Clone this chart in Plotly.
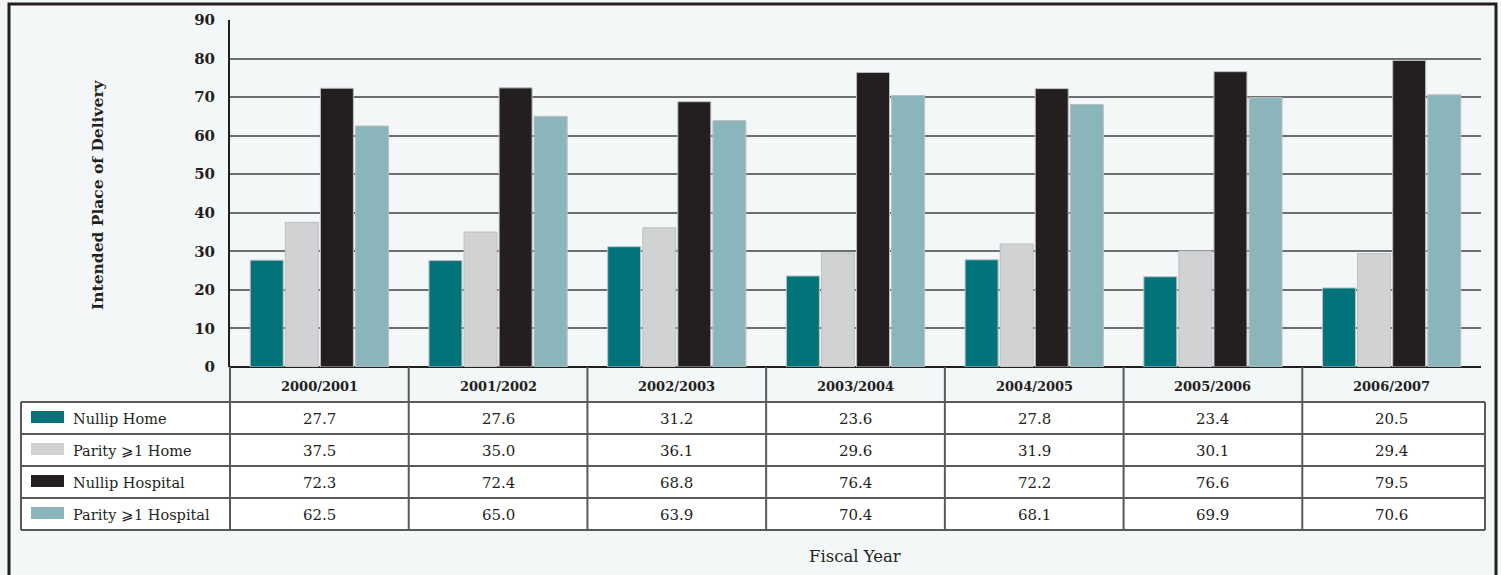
import plotly.graph_objects as go

years = ["2000/2001", "2001/2002", "2002/2003", "2003/2004", "2004/2005", "2005/2006", "2006/2007"]
series_names = ["Nullip Home", "Parity \u2A7E1 Home", "Nullip Hospital", "Parity \u2A7E1 Hospital"]
nullip_home = [27.7, 27.6, 31.2, 23.6, 27.8, 23.4, 20.5]
parity_home = [37.5, 35.0, 36.1, 29.6, 31.9, 30.1, 29.4]
nullip_hospital = [72.3, 72.4, 68.8, 76.4, 72.2, 76.6, 79.5]
parity_hospital = [62.5, 65.0, 63.9, 70.4, 68.1, 69.9, 70.6]
series_values = [nullip_home, parity_home, nullip_hospital, parity_hospital]
colors = ["#02737A", "#D1D2D4", "#231F20", "#8AB5BA"]
y_ticks = [0, 10, 20, 30, 40, 50, 60, 70, 80, 90]

W, H = 1501, 575
FONT = "DejaVu Serif"
BG = "#F3F7F8"
LINE = "#58595B"
TXT = "#231F20"


def fx(px):
    return px / W


def fy(py):
    return 1 - py / H


plot_l, plot_r, plot_t, plot_b = 230, 1481, 20, 367

fig = go.Figure()
for name, vals, col in zip(series_names, series_values, colors):
    fig.add_trace(go.Bar(
        x=years, y=vals, name=name,
        marker=dict(color=col, line=dict(color="#BCBEC0", width=1)),
        showlegend=False, hoverinfo="skip",
    ))

shapes = []
annotations = []


def ann(x, y, text, size, **kw):
    d = dict(xref="paper", yref="paper", x=fx(x), y=fy(y), text=text, showarrow=False,
             xanchor="center", yanchor="middle",
             font=dict(family=FONT, size=size, color=TXT))
    d.update(kw)
    annotations.append(d)


# outer frame
shapes.append(dict(type="rect", xref="paper", yref="paper",
                   x0=fx(9), x1=fx(1496), y0=fy(600), y1=fy(4),
                   line=dict(color=TXT, width=3), fillcolor="rgba(0,0,0,0)", layer="above"))

ncol = len(years)
colw = (plot_r - plot_l) / ncol
col_edges = [plot_l + i * colw for i in range(ncol + 1)]
hdr_t, hdr_b = plot_b, 402
row_edges = [402, 434, 466, 498, 530]
tbl_l, tbl_r = 21, 1485

# data rows white background
shapes.append(dict(type="rect", xref="paper", yref="paper",
                   x0=fx(tbl_l), x1=fx(tbl_r), y0=fy(row_edges[-1]), y1=fy(row_edges[0]),
                   fillcolor="white", line=dict(width=0), layer="below"))
# header vertical lines
for xe in col_edges[:-1]:
    shapes.append(dict(type="line", xref="paper", yref="paper",
                       x0=fx(xe), x1=fx(xe), y0=fy(hdr_t), y1=fy(hdr_b),
                       line=dict(color=LINE, width=2)))
# data rows horizontal lines
for ye in row_edges:
    shapes.append(dict(type="line", xref="paper", yref="paper",
                       x0=fx(tbl_l), x1=fx(tbl_r), y0=fy(ye), y1=fy(ye),
                       line=dict(color=LINE, width=2)))
# data rows vertical lines
for xe in [tbl_l] + col_edges[:-1] + [tbl_r]:
    shapes.append(dict(type="line", xref="paper", yref="paper",
                       x0=fx(xe), x1=fx(xe), y0=fy(row_edges[0]), y1=fy(row_edges[-1]),
                       line=dict(color=LINE, width=2)))

# header labels
for i, yr in enumerate(years):
    cx = (col_edges[i] + col_edges[i + 1]) / 2
    ann(cx, (hdr_t + hdr_b) / 2 + 2, "<b>%s</b>" % yr, 13)

# rows
for r, (name, vals, col) in enumerate(zip(series_names, series_values, colors)):
    yt, yb = row_edges[r], row_edges[r + 1]
    cy = (yt + yb) / 2
    shapes.append(dict(type="rect", xref="paper", yref="paper",
                       x0=fx(31), x1=fx(64), y0=fy(cy + 5), y1=fy(cy - 7),
                       fillcolor=col, line=dict(width=0)))
    ann(71, cy + 1, name, 14.5, xanchor="left")
    for i, v in enumerate(vals):
        cx = (col_edges[i] + col_edges[i + 1]) / 2
        ann(cx, cy + 1, "%.1f" % v, 15)

# titles
ann(97, 195, "<b>Intended Place of Delivery</b>", 15.5, textangle=-90)
ann(855, 556, "Fiscal Year", 16.5)

fig.update_layout(
    width=W, height=H,
    margin=dict(l=0, r=0, t=0, b=0, autoexpand=False),
    paper_bgcolor=BG, plot_bgcolor=BG,
    barmode="group", bargap=0.215, bargroupgap=0.06,
    shapes=shapes, annotations=annotations,
    xaxis=dict(domain=[fx(plot_l), fx(plot_r)], showticklabels=False, ticks="",
               showgrid=False, zeroline=False, showline=False, fixedrange=True,
               automargin=False),
    yaxis=dict(domain=[fy(plot_b), fy(plot_t)], range=[0, 90], tickvals=y_ticks,
               ticktext=["<b>%d</b>" % t for t in y_ticks],
               showgrid=True, gridcolor="#6D6E70", gridwidth=2,
               zeroline=True, zerolinecolor=TXT, zerolinewidth=2,
               showline=True, linecolor=TXT, linewidth=2,
               ticks="", ticklabelstandoff=10, automargin=False,
               tickfont=dict(family=FONT, size=15, color=TXT)),
)

fig.write_html("out.html", post_script="document.body.style.margin='0';")
